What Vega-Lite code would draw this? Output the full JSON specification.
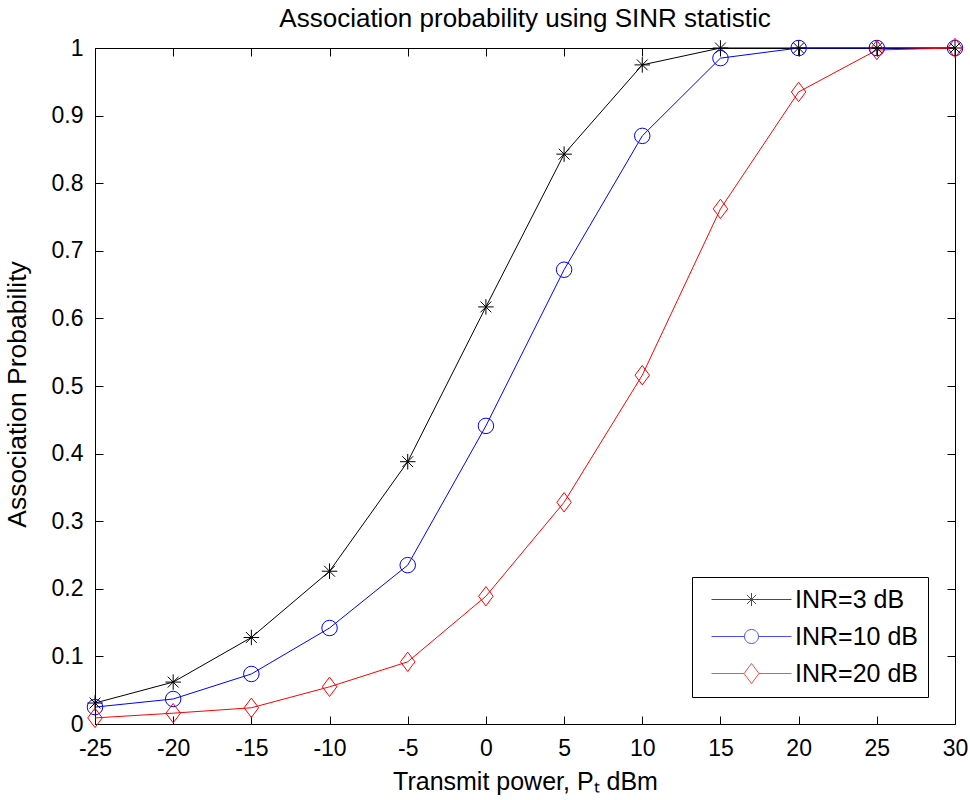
{
  "$schema": "https://vega.github.io/schema/vega-lite/v6.json",
  "autosize": {"type": "none"},
  "width": 860,
  "height": 676,
  "padding": {"left": 95, "top": 48, "right": 15, "bottom": 76},
  "background": "white",
  "title": {"text": "Association probability using SINR statistic", "fontSize": 26, "fontWeight": "normal", "font": "Liberation Sans", "color": "black", "offset": 4, "anchor": "middle"},
  "config": {
    "view": {"stroke": "black", "strokeWidth": 1},
    "axis": {"labelFont": "Liberation Sans", "labelFontSize": 23, "titleFont": "Liberation Sans", "titleFontSize": 25, "titleFontWeight": "normal", "labelColor": "black", "titleColor": "black", "grid": false, "domain": false, "labelFlush": false, "labelOverlap": false}
  },
  "data": {"values": [
    {"p": -25, "prob": 0.031, "series": "INR=3 dB"},
    {"p": -20, "prob": 0.062, "series": "INR=3 dB"},
    {"p": -15, "prob": 0.128, "series": "INR=3 dB"},
    {"p": -10, "prob": 0.226, "series": "INR=3 dB"},
    {"p": -5, "prob": 0.388, "series": "INR=3 dB"},
    {"p": 0, "prob": 0.617, "series": "INR=3 dB"},
    {"p": 5, "prob": 0.843, "series": "INR=3 dB"},
    {"p": 10, "prob": 0.975, "series": "INR=3 dB"},
    {"p": 15, "prob": 1.0, "series": "INR=3 dB"},
    {"p": 20, "prob": 1.0, "series": "INR=3 dB"},
    {"p": 25, "prob": 1.0, "series": "INR=3 dB"},
    {"p": 30, "prob": 1.0, "series": "INR=3 dB"},
    {"p": -25, "prob": 0.025, "series": "INR=10 dB"},
    {"p": -20, "prob": 0.037, "series": "INR=10 dB"},
    {"p": -15, "prob": 0.074, "series": "INR=10 dB"},
    {"p": -10, "prob": 0.142, "series": "INR=10 dB"},
    {"p": -5, "prob": 0.235, "series": "INR=10 dB"},
    {"p": 0, "prob": 0.441, "series": "INR=10 dB"},
    {"p": 5, "prob": 0.672, "series": "INR=10 dB"},
    {"p": 10, "prob": 0.870, "series": "INR=10 dB"},
    {"p": 15, "prob": 0.985, "series": "INR=10 dB"},
    {"p": 20, "prob": 1.0, "series": "INR=10 dB"},
    {"p": 25, "prob": 1.0, "series": "INR=10 dB"},
    {"p": 30, "prob": 1.0, "series": "INR=10 dB"},
    {"p": -25, "prob": 0.009, "series": "INR=20 dB"},
    {"p": -20, "prob": 0.016, "series": "INR=20 dB"},
    {"p": -15, "prob": 0.024, "series": "INR=20 dB"},
    {"p": -10, "prob": 0.055, "series": "INR=20 dB"},
    {"p": -5, "prob": 0.092, "series": "INR=20 dB"},
    {"p": 0, "prob": 0.189, "series": "INR=20 dB"},
    {"p": 5, "prob": 0.328, "series": "INR=20 dB"},
    {"p": 10, "prob": 0.516, "series": "INR=20 dB"},
    {"p": 15, "prob": 0.762, "series": "INR=20 dB"},
    {"p": 20, "prob": 0.935, "series": "INR=20 dB"},
    {"p": 25, "prob": 0.997, "series": "INR=20 dB"},
    {"p": 30, "prob": 1.0, "series": "INR=20 dB"}
  ]},
  "resolve": {"axis": {"x": "independent", "y": "independent"}, "scale": {"color": "independent", "shape": "independent"}},
  "layer": [
    {
      "mark": {"type": "line", "strokeWidth": 1, "clip": false},
      "encoding": {
        "x": {"field": "p", "type": "quantitative", "scale": {"domain": [-25, 30], "nice": false, "zero": false},
              "axis": {"orient": "bottom", "values": [-25, -20, -15, -10, -5, 0, 5, 10, 15, 20, 25, 30], "labelExpr": "'' + datum.value", "ticks": false, "tickSize": 0, "labelPadding": 13, "title": "Transmit power, Pₜ dBm", "titlePadding": 9}},
        "y": {"field": "prob", "type": "quantitative", "scale": {"domain": [0, 1], "nice": false, "zero": false},
              "axis": {"orient": "left", "values": [0, 0.1, 0.2, 0.3, 0.4, 0.5, 0.6, 0.7, 0.8, 0.9, 1], "labelExpr": "'' + datum.value", "ticks": false, "tickSize": 0, "labelPadding": 12, "title": "Association Probability", "titleFontSize": 26.5, "titlePadding": 20, "titleY": 346}},
        "color": {"field": "series", "type": "nominal", "scale": {"domain": ["INR=3 dB", "INR=10 dB", "INR=20 dB"], "range": ["#000000", "#0000ff", "#ff0000"]}, "legend": null},
        "detail": {"field": "series"}
      }
    },
    {
      "mark": {"type": "point", "filled": false, "strokeWidth": 1, "opacity": 1, "clip": false},
      "encoding": {
        "x": {"field": "p", "type": "quantitative", "scale": {"domain": [-25, 30], "nice": false, "zero": false},
              "axis": {"orient": "top", "offset": -676, "ticks": true, "tickSize": 8, "tickWidth": 1, "tickColor": "black", "values": [-25, -20, -15, -10, -5, 0, 5, 10, 15, 20, 25, 30], "labels": false, "title": null}},
        "y": {"field": "prob", "type": "quantitative", "scale": {"domain": [0, 1], "nice": false, "zero": false},
              "axis": {"orient": "right", "offset": -860, "ticks": true, "tickSize": 8, "tickWidth": 1, "tickColor": "black", "values": [0, 0.1, 0.2, 0.3, 0.4, 0.5, 0.6, 0.7, 0.8, 0.9, 1], "labels": false, "title": null}},
        "color": {"field": "series", "type": "nominal", "scale": {"domain": ["INR=3 dB", "INR=10 dB", "INR=20 dB"], "range": ["#000000", "#0000ff", "#ff0000"]}, "legend": null},
        "shape": {"field": "series", "type": "nominal", "scale": {"domain": ["INR=3 dB", "INR=10 dB", "INR=20 dB"], "range": ["M-1,0H1M0,-1V1M-0.7,-0.7L0.7,0.7M-0.7,0.7L0.7,-0.7", "circle", "M0,-1.25L0.9375,0L0,1.25L-0.9375,0Z"]}, "legend": null},
        "size": {"field": "series", "type": "nominal", "scale": {"domain": ["INR=3 dB", "INR=10 dB", "INR=20 dB"], "range": [240, 240, 256]}, "legend": null}
      }
    },
    {
      "mark": {"type": "point", "opacity": 0, "clip": false},
      "encoding": {
        "x": {"field": "p", "type": "quantitative", "scale": {"domain": [-25, 30], "nice": false, "zero": false},
              "axis": {"orient": "bottom", "offset": -676, "ticks": true, "tickSize": 8, "tickWidth": 1, "tickColor": "black", "values": [-25, -20, -15, -10, -5, 0, 5, 10, 15, 20, 25, 30], "labels": false, "title": null}},
        "y": {"field": "prob", "type": "quantitative", "scale": {"domain": [0, 1], "nice": false, "zero": false},
              "axis": {"orient": "left", "offset": -860, "ticks": true, "tickSize": 8, "tickWidth": 1, "tickColor": "black", "values": [0, 0.1, 0.2, 0.3, 0.4, 0.5, 0.6, 0.7, 0.8, 0.9, 1], "labels": false, "title": null}}
      }
    },
    {
      "transform": [{"filter": "false"}],
      "mark": {"type": "point", "filled": false, "strokeWidth": 1, "size": 256, "clip": false},
      "encoding": {
        "x": {"field": "p", "type": "quantitative", "scale": {"domain": [-25, 30], "nice": false, "zero": false}, "axis": null},
        "y": {"field": "prob", "type": "quantitative", "scale": {"domain": [0, 1], "nice": false, "zero": false}, "axis": null},
        "color": {"field": "series", "type": "nominal", "scale": {"domain": ["INR=3 dB", "INR=10 dB", "INR=20 dB"], "range": ["#000000", "#0000ff", "#ff0000"]},
          "legend": {
            "title": null, "orient": "none", "legendX": 597, "legendY": 529, "padding": 10,
            "strokeColor": "black", "fillColor": "white", "cornerRadius": 0,
            "labelFont": "Liberation Sans", "labelFontSize": 25, "labelColor": "black", "labelOffset": 68,
            "symbolSize": 256, "symbolStrokeWidth": 1, "symbolFillColor": "transparent", "rowPadding": 11
          }},
        "shape": {"field": "series", "type": "nominal", "scale": {"domain": ["INR=3 dB", "INR=10 dB", "INR=20 dB"], "range": [
            "M-0.375,0H9.625M4.625,-0.8125V0.8125M3.8125,0H5.4375M4.05,-0.575L5.2,0.575M4.05,0.575L5.2,-0.575",
            "M-0.375,0H3.75M5.5,0H9.625M5.5,0A0.875,0.875 0 1,1 3.75,0A0.875,0.875 0 1,1 5.5,0",
            "M-0.375,0H3.6875M5.5625,0H9.625M4.625,-1.25L5.5625,0L4.625,1.25L3.6875,0Z"]},
          "legend": {
            "title": null, "orient": "none", "legendX": 597, "legendY": 529, "padding": 10,
            "strokeColor": "black", "fillColor": "white", "cornerRadius": 0,
            "labelFont": "Liberation Sans", "labelFontSize": 25, "labelColor": "black", "labelOffset": 68,
            "symbolSize": 256, "symbolStrokeWidth": 1, "symbolFillColor": "transparent", "rowPadding": 11
          }}
      }
    }
  ]
}
